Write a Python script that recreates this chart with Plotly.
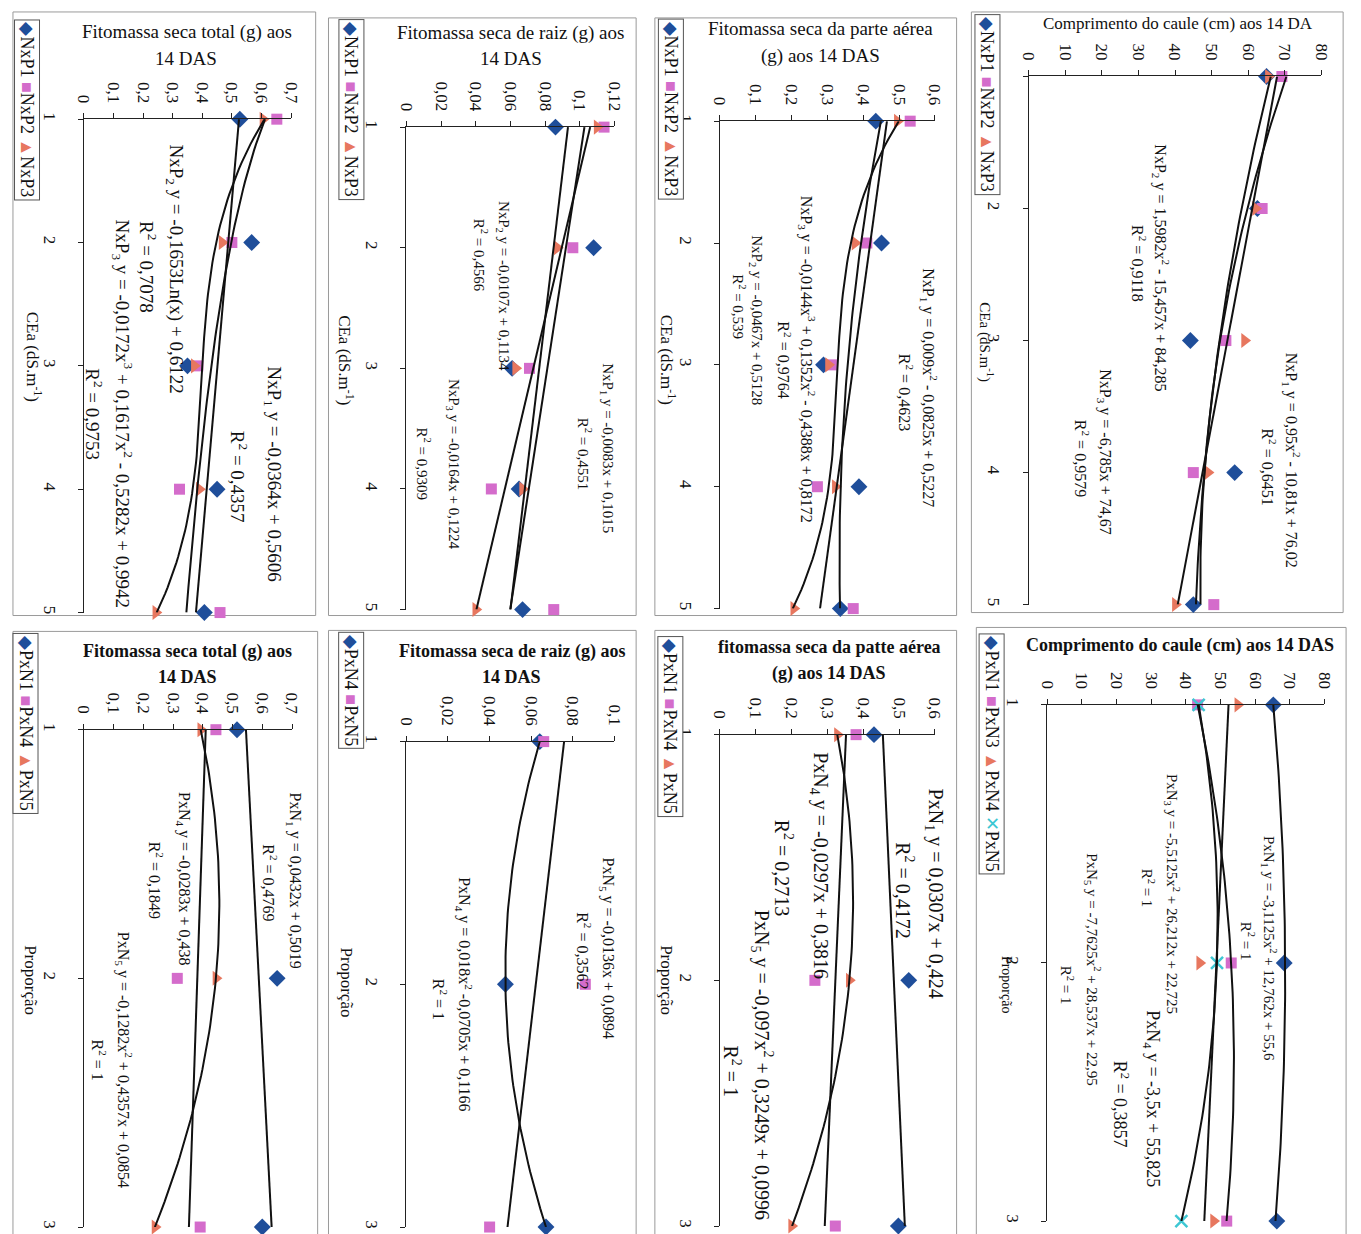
import numpy as np
import plotly.graph_objects as go

W, H = 1361, 1234
FONT = "Liberation Serif, Times New Roman, serif"
BLUE, PINK, ORANGE, CYAN = "#1F4E9A", "#D46CCB", "#E7775F", "#3EC7D3"

# ---------------- data ----------------
cea = [1, 2, 3, 4, 5]
prop = [1, 2, 3]

# Fitomassa seca total (g) - NxP
tot_nxp1 = [0.527, 0.567, 0.350, 0.450, 0.407]
tot_nxp2 = [0.652, 0.500, 0.385, 0.323, 0.460]
tot_nxp3 = [0.605, 0.467, 0.373, 0.390, 0.243]
# Fitomassa seca de raiz (g) - NxP
raiz_nxp1 = [0.086, 0.108, 0.061, 0.065, 0.067]
raiz_nxp2 = [0.114, 0.096, 0.071, 0.049, 0.085]
raiz_nxp3 = [0.110, 0.087, 0.063, 0.067, 0.040]
# Fitomassa seca da parte aerea (g) - NxP
aer_nxp1 = [0.435, 0.451, 0.289, 0.388, 0.336]
aer_nxp2 = [0.531, 0.410, 0.311, 0.272, 0.372]
aer_nxp3 = [0.495, 0.377, 0.303, 0.322, 0.206]
# Comprimento do caule (cm) - NxP
cau_nxp1 = [65.0, 62.5, 44.2, 56.3, 45.0]
cau_nxp2 = [69.2, 63.8, 53.9, 45.0, 50.6]
cau_nxp3 = [65.5, 62.0, 59.0, 49.0, 40.1]
# PxN panels
tot_pxn1 = [0.515, 0.650, 0.600]
tot_pxn4 = [0.444, 0.314, 0.391]
tot_pxn5 = [0.393, 0.444, 0.239]
raiz_pxn4 = [0.0641, 0.0476, 0.0671]
raiz_pxn5 = [0.066, 0.086, 0.040]
aer_pxn1 = [0.430, 0.527, 0.498]
aer_pxn4 = [0.380, 0.265, 0.322]
aer_pxn5 = [0.328, 0.361, 0.200]
cau_pxn1 = [65.25, 68.4, 66.27]
cau_pxn3 = [43.4, 53.1, 51.8]
cau_pxn4 = [55.0, 44.0, 48.0]
cau_pxn5 = [43.7, 49.0, 38.7]

# trend line coefficients as printed on the chart
tr_tot_nxp1 = [-0.0364, 0.5606]
tr_tot_nxp2 = [-0.1653, 0.6122]          # logarithmic
tr_tot_nxp3 = [-0.0172, 0.1617, -0.5282, 0.9942]
tr_raiz_nxp1 = [-0.0083, 0.1015]
tr_raiz_nxp2 = [-0.0107, 0.1134]
tr_raiz_nxp3 = [-0.0164, 0.1224]
tr_aer_nxp1 = [0.009, -0.0825, 0.5227]
tr_aer_nxp2 = [-0.0467, 0.5128]
tr_aer_nxp3 = [-0.0144, 0.1352, -0.4388, 0.8172]
tr_cau_nxp1 = [0.95, -10.81, 76.02]
tr_cau_nxp2 = [1.5982, -15.457, 84.285]
tr_cau_nxp3 = [-6.785, 74.67]
tr_tot_pxn1 = [0.0432, 0.5019]
tr_tot_pxn4 = [-0.0283, 0.438]
tr_tot_pxn5 = [-0.1282, 0.4357, 0.0854]
tr_raiz_pxn4 = [0.018, -0.0705, 0.1166]
tr_raiz_pxn5 = [-0.0136, 0.0894]
tr_aer_pxn1 = [0.0307, 0.424]
tr_aer_pxn4 = [-0.0297, 0.3816]
tr_aer_pxn5 = [-0.097, 0.3249, 0.0996]
tr_cau_pxn1 = [-3.1125, 12.762, 55.6]
tr_cau_pxn3 = [-5.5125, 26.212, 22.725]
tr_cau_pxn4 = [-3.5, 55.825]
tr_cau_pxn5 = [-7.7625, 28.537, 22.95]

ticks_07 = [0, 0.1, 0.2, 0.3, 0.4, 0.5, 0.6, 0.7]
ticks_07_txt = ["0", "0,1", "0,2", "0,3", "0,4", "0,5", "0,6", "0,7"]
ticks_012 = [0, 0.02, 0.04, 0.06, 0.08, 0.1, 0.12]
ticks_012_txt = ["0", "0,02", "0,04", "0,06", "0,08", "0,1", "0,12"]
ticks_01 = [0, 0.02, 0.04, 0.06, 0.08, 0.1]
ticks_01_txt = ["0", "0,02", "0,04", "0,06", "0,08", "0,1"]
ticks_06 = [0, 0.1, 0.2, 0.3, 0.4, 0.5, 0.6]
ticks_06_txt = ["0", "0,1", "0,2", "0,3", "0,4", "0,5", "0,6"]
ticks_80 = [0, 10, 20, 30, 40, 50, 60, 70, 80]
ticks_80_txt = ["0", "10", "20", "30", "40", "50", "60", "70", "80"]

# ---------------- layout geometry (pixels) ----------------
def fx(p):
    return p / W

def fy(p):
    return 1 - p / H

SYM = [("diamond", BLUE, 13), ("square", PINK, 11), ("triangle-right", ORANGE, 13), ("x-thin", CYAN, 12)]

panels = [
    dict(cats=cea, series=[(tot_nxp1, "poly", tr_tot_nxp1), (tot_nxp2, "log", tr_tot_nxp2), (tot_nxp3, "poly", tr_tot_nxp3)],
         tv=ticks_07, tt=ticks_07_txt, box=(75, 285, 113, 610)),
    dict(cats=cea, series=[(raiz_nxp1, "poly", tr_raiz_nxp1), (raiz_nxp2, "poly", tr_raiz_nxp2), (raiz_nxp3, "poly", tr_raiz_nxp3)],
         tv=ticks_012, tt=ticks_012_txt, box=(402, 613, 121, 607)),
    dict(cats=cea, series=[(aer_nxp1, "poly", tr_aer_nxp1), (aer_nxp2, "poly", tr_aer_nxp2), (aer_nxp3, "poly", tr_aer_nxp3)],
         tv=ticks_06, tt=ticks_06_txt, box=(720, 938, 115, 606)),
    dict(cats=cea, series=[(cau_nxp1, "poly", tr_cau_nxp1), (cau_nxp2, "poly", tr_cau_nxp2), (cau_nxp3, "poly", tr_cau_nxp3)],
         tv=ticks_80, tt=ticks_80_txt, box=(1033, 1330, 70, 602)),
    dict(cats=prop, series=[(tot_pxn1, "poly", tr_tot_pxn1), (tot_pxn4, "poly", tr_tot_pxn4), (tot_pxn5, "poly", tr_tot_pxn5)],
         tv=ticks_07, tt=ticks_07_txt, box=(75, 286, 728, 1229)),
    dict(cats=prop, series=[(raiz_pxn4, "poly", tr_raiz_pxn4), (raiz_pxn5, "poly", tr_raiz_pxn5)],
         tv=ticks_01, tt=ticks_01_txt, box=(402, 613, 740, 1229)),
    dict(cats=prop, series=[(aer_pxn1, "poly", tr_aer_pxn1), (aer_pxn4, "poly", tr_aer_pxn4), (aer_pxn5, "poly", tr_aer_pxn5)],
         tv=ticks_06, tt=ticks_06_txt, box=(720, 938, 733, 1228)),
    dict(cats=prop, series=[(cau_pxn1, "poly", tr_cau_pxn1), (cau_pxn3, "poly", tr_cau_pxn3), (cau_pxn4, "poly", tr_cau_pxn4), (cau_pxn5, "poly", tr_cau_pxn5)],
         tv=ticks_80, tt=ticks_80_txt, box=(1052, 1333, 703, 1223)),
]

fig = go.Figure()
layout = dict(width=W, height=H, margin=dict(l=0, r=0, t=0, b=0), autosize=False,
              paper_bgcolor="white", plot_bgcolor="white", showlegend=False,
              font=dict(family=FONT, color="#111"))

for k, p in enumerate(panels, start=1):
    xr = "x" if k == 1 else f"x{k}"
    yr = "y" if k == 1 else f"y{k}"
    x0, x1, y0, y1 = p["box"]
    cats = p["cats"]
    layout["xaxis" if k == 1 else f"xaxis{k}"] = dict(
        domain=[fx(x0), fx(x1)], range=[0, p["tv"][-1]], side="top", anchor=yr,
        tickvals=p["tv"], ticktext=p["tt"], tickangle=90, showline=True, linecolor="#222",
        linewidth=1, ticks="outside", ticklen=5, tickcolor="#222", showgrid=False, zeroline=False,
        tickfont=dict(family=FONT, size=17, color="#111"), ticklabelstandoff=4, fixedrange=True)
    layout["yaxis" if k == 1 else f"yaxis{k}"] = dict(
        domain=[fy(y1), fy(y0)], range=[cats[-1], cats[0]], anchor=xr,
        tickvals=cats, ticktext=[str(c) for c in cats], tickangle=90, showline=True, linecolor="#222",
        linewidth=1, ticks="outside", ticklen=5, tickcolor="#222", showgrid=False, zeroline=False,
        tickfont=dict(family=FONT, size=17, color="#111"), ticklabelstandoff=14, fixedrange=True)
    t = np.linspace(cats[0], cats[-1], 80)
    for i, (vals, kind, coef) in enumerate(p["series"]):
        sym, col, sz = SYM[i]
        mk = dict(symbol=sym, color=col, size=sz)
        if sym == "x-thin":
            mk["line"] = dict(color=col, width=2.5)
        fig.add_trace(go.Scatter(x=vals, y=cats, mode="markers", marker=mk, cliponaxis=False,
                                 xaxis=xr, yaxis=yr, hoverinfo="skip"))
    for i, (vals, kind, coef) in enumerate(p["series"]):
        if kind == "log":
            yv = coef[0] * np.log(t) + coef[1]
        else:
            yv = np.polyval(coef, t)
        fig.add_trace(go.Scatter(x=yv, y=t, mode="lines", line=dict(color="#111", width=2),
                                 xaxis=xr, yaxis=yr, hoverinfo="skip"))

ann = []

def A(text, x, y, size, angle=90, bold=False, **kw):
    d = dict(text=(f"<b>{text}</b>" if bold else text), x=fx(x), y=fy(y), xref="paper", yref="paper",
             xanchor="center", yanchor="middle", showarrow=False, textangle=angle,
             font=dict(family=FONT, size=size, color="#111"))
    d.update(kw)
    ann.append(d)

# titles
A("Fitomassa seca total (g) aos", 180, 25, 19, 0)
A("14 DAS", 178, 52, 19, 0)
A("Fitomassa seca de raiz (g) aos", 508, 26, 19, 0)
A("14 DAS", 508, 52, 19, 0)
A("Fitomassa seca da parte aérea", 822, 22, 19, 0)
A("(g) aos 14 DAS", 822, 49, 19, 0)
A("Comprimento do caule (cm) aos 14 DA", 1185, 17, 17, 0)
A("Fitomassa seca total (g) aos", 180, 649, 18, 0, bold=True)
A("14 DAS", 180, 675, 18, 0, bold=True)
A("Fitomassa seca de raiz (g) aos", 509, 649, 18, 0, bold=True)
A("14 DAS", 509, 675, 18, 0, bold=True)
A("fitomassa seca da patte aérea", 831, 645, 18, 0, bold=True)
A("(g) aos 14 DAS", 831, 671, 18, 0, bold=True)
A("Comprimento do caule (cm) aos 14 DAS", 1187, 643, 18, 0, bold=True)

# axis titles
cea_t = "CEa (dS.m<sup>-1</sup>)"
A(cea_t, 24, 352, 17)
A(cea_t, 340, 356, 17)
A(cea_t, 667, 355, 17)
A(cea_t, 990, 338, 15)
A("Proporção", 20, 980, 17)
A("Proporção", 341, 983, 17)
A("Proporção", 665, 980, 17)
A("Proporção", 1010, 985, 14)

# legends
def sp(c, s):
    return f'<span style="color:{c}">{s}</span>'

legs = [
    (f'{sp(BLUE, "◆")}NxP1 {sp(PINK, "■")}NxP2 {sp(ORANGE, "▲")}NxP3', 17, 104, 18),
    (f'{sp(BLUE, "◆")}NxP1 {sp(PINK, "■")}NxP2 {sp(ORANGE, "▲")}NxP3', 346, 103, 18),
    (f'{sp(BLUE, "◆")}NxP1 {sp(PINK, "■")}NxP2 {sp(ORANGE, "▲")}NxP3', 670, 103, 18),
    (f'{sp(BLUE, "◆")}NxP1 {sp(PINK, "■")}NxP2 {sp(ORANGE, "▲")}NxP3', 991, 98, 18),
    (f'{sp(BLUE, "◆")}PxN1 {sp(PINK, "■")}PxN4 {sp(ORANGE, "▲")}PxN5', 16, 722, 18),
    (f'{sp(BLUE, "◆")}PxN4 {sp(PINK, "■")}PxN5', 346, 688, 18),
    (f'{sp(BLUE, "◆")}PxN1 {sp(PINK, "■")}PxN4 {sp(ORANGE, "▲")}PxN5', 670, 725, 18),
    (f'{sp(BLUE, "◆")}PxN1 {sp(PINK, "■")}PxN3 {sp(ORANGE, "▲")}PxN4 {sp(CYAN, "✕")}PxN5', 996, 752, 18),
]
for txt, x, y, s in legs:
    A(txt, x, y, s, bordercolor="#555", borderwidth=1, borderpad=2, bgcolor="white")

R2 = "R<sup>2</sup> = "
eqs = [
    # panel 1
    ("NxP<sub>2</sub> y = -0,1653Ln(x) + 0,6122", 167, 264, 19),
    (R2 + "0,7078", 140, 262, 19),
    ("NxP<sub>3</sub> y = -0,0172x<sup>3</sup> + 0,1617x<sup>2</sup> - 0,5282x + 0,9942", 115, 410, 19),
    (R2 + "0,9753", 85, 410, 19),
    ("NxP<sub>1</sub> y = -0,0364x + 0,5606", 267, 470, 19),
    (R2 + "0,4357", 233, 473, 19),
    # panel 2
    ("NxP<sub>2</sub> y = -0,0107x + 0,1134", 500, 281, 15),
    (R2 + "0,4566", 477, 250, 15),
    ("NxP<sub>1</sub> y = -0,0083x + 0,1015", 606, 444, 15),
    (R2 + "0,4551", 583, 450, 15),
    ("NxP<sub>3</sub> y = -0,0164x + 0,1224", 450, 461, 15),
    (R2 + "0,9309", 420, 460, 15),
    # panel 3
    ("NxP<sub>1</sub> y = 0,009x<sup>2</sup> - 0,0825x + 0,5227", 932, 384, 16),
    (R2 + "0,4623", 908, 388, 16),
    ("NxP<sub>3</sub> y = -0,0144x<sup>3</sup> + 0,1352x<sup>2</sup> - 0,4388x + 0,8172", 808, 355, 16),
    (R2 + "0,9764", 785, 355, 16),
    ("NxP<sub>2</sub> y = -0,0467x + 0,5128", 757, 316, 15),
    (R2 + "0,539", 740, 302, 15),
    # panel 4
    ("NxP<sub>2</sub> y = 1,5982x<sup>2</sup> - 15,457x + 84,285", 1167, 263, 16),
    (R2 + "0,9118", 1145, 258, 16),
    ("NxP<sub>1</sub> y = 0,95x<sup>2</sup> - 10,81x + 76,02", 1300, 457, 16),
    (R2 + "0,6451", 1277, 463, 16),
    ("NxP<sub>3</sub> y = -6,785x + 74,67", 1110, 448, 16),
    (R2 + "0,9579", 1087, 455, 16),
    # panel 5
    ("PxN<sub>1</sub> y = 0,0432x + 0,5019", 288, 880, 16),
    (R2 + "0,4769", 264, 882, 16),
    ("PxN<sub>4</sub> y = -0,0283x + 0,438", 176, 878, 16),
    (R2 + "0,1849", 148, 880, 16),
    ("PxN<sub>5</sub> y = -0,1282x<sup>2</sup> + 0,4357x + 0,0854", 115, 1061, 16),
    (R2 + "1", 90, 1061, 16),
    # panel 6
    ("PxN<sub>5</sub> y = -0,0136x + 0,0894", 606, 948, 16),
    (R2 + "0,3562", 582, 951, 16),
    ("PxN<sub>4</sub> y = 0,018x<sup>2</sup> -0,0705x + 0,1166", 461, 994, 16),
    (R2 + "1", 436, 1000, 16),
    # panel 7
    ("PxN<sub>1</sub> y = 0,0307x + 0,424", 938, 893, 20),
    (R2 + "0,4172", 908, 890, 20),
    ("PxN<sub>4</sub> y = -0,0297x + 0,3816", 821, 865, 20),
    (R2 + "0,2713", 785, 867, 20),
    ("PxN<sub>5</sub> y = -0,097x<sup>2</sup> + 0,3249x + 0,0996", 762, 1066, 20),
    (R2 + "1", 732, 1072, 20),
    # panel 8
    ("PxN<sub>1</sub> y = -3,1125x<sup>2</sup> + 12,762x + 55,6", 1277, 948, 15),
    (R2 + "1", 1255, 941, 15),
    ("PxN<sub>3</sub> y = -5,5125x<sup>2</sup> + 26,212x + 22,725", 1178, 893, 15),
    (R2 + "1", 1155, 888, 15),
    ("PxN<sub>5</sub> y = -7,7625x<sup>2</sup> + 28,537x + 22,95", 1098, 970, 15),
    (R2 + "1", 1072, 985, 15),
    ("PxN<sub>4</sub> y = -3,5x + 55,825", 1157, 1100, 18),
    (R2 + "0,3857", 1126, 1105, 18),
]
for txt, x, y, s in eqs:
    A(txt, x, y, s)

# panel frames
frames = [(3, 5, 310, 613), (323, 11, 635, 613), (654, 11, 960, 613), (975, 5, 1352, 610),
          (3, 629, 312, 1250), (323, 628, 635, 1250), (654, 628, 960, 1250), (980, 625, 1355, 1250)]
shapes = [dict(type="rect", xref="paper", yref="paper", x0=fx(a), x1=fx(c), y0=fy(d), y1=fy(b),
               line=dict(color="#9a9a9a", width=1), layer="below") for a, b, c, d in frames]

layout["annotations"] = ann
layout["shapes"] = shapes
fig.update_layout(**layout)
fig.write_html("out.html")
